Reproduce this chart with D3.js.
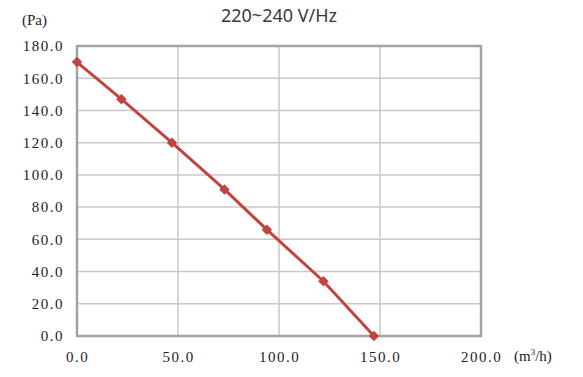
<!DOCTYPE html>
<html>
<head>
<meta charset="utf-8">
<script src="https://cdn.jsdelivr.net/npm/d3@7"></script>
<style>
  body { margin: 0; background: #fff; }
  .tick text { font-family: "Liberation Serif", serif; font-size: 15px; fill: #222; letter-spacing: 1.5px; }
</style>
</head>
<body>
<script>
// air flow (m3/h) vs static pressure (Pa)
const flowValues = [0, 22, 47, 73, 94, 122, 147];
const pressureValues = [170, 147, 120, 91, 66, 34, 0];
const xTicks = [0, 50, 100, 150, 200];
const yTicks = [0, 20, 40, 60, 80, 100, 120, 140, 160, 180];
const title = "220~240 V/Hz";

let margin = null,
    width = null,
    height = null;

let svg = null;
let x, y = null; // scales

setupCanvasSize();
appendSvg("body");
setupScales();
appendGrid();
appendAxes();
appendFrame();
appendCurve();
appendLabels();

function setupCanvasSize() {
  margin = {top: 46, left: 77, bottom: 41, right: 102};
  width = 583 - margin.left - margin.right;
  height = 377 - margin.top - margin.bottom;
}

function appendSvg(domElement) {
  const root = d3.select(domElement).append("svg")
    .attr("width", width + margin.left + margin.right)
    .attr("height", height + margin.top + margin.bottom);
  root.append("text")
    .attr("x", 279).attr("y", 22)
    .attr("text-anchor", "middle")
    .style("font-family", "'Noto Sans', sans-serif")
    .style("font-size", "18px")
    .style("fill", "#3a3a3a")
    .text(title);
  svg = root.append("g")
    .attr("transform", `translate(${margin.left}, ${margin.top})`);
}

function setupScales() {
  x = d3.scaleLinear().range([0, width]).domain([0, 200]);
  y = d3.scaleLinear().range([height, 0]).domain([0, 180]);
}

function appendGrid() {
  svg.append("g").selectAll("line")
    .data(yTicks)
    .enter().append("line")
    .attr("x1", 0).attr("x2", width)
    .attr("y1", d => y(d)).attr("y2", d => y(d))
    .style("stroke", "#c8c8c8").style("stroke-width", 1.5);
  svg.append("g").selectAll("line")
    .data(xTicks)
    .enter().append("line")
    .attr("y1", 0).attr("y2", height)
    .attr("x1", d => x(d)).attr("x2", d => x(d))
    .style("stroke", "#c8c8c8").style("stroke-width", 1.5);
}

function appendAxes() {
  const fmt = d3.format(".1f");
  const gx = svg.append("g")
    .attr("transform", `translate(0,${height})`)
    .call(d3.axisBottom(x).tickValues(xTicks).tickFormat(fmt).tickSize(0).tickPadding(15));
  const gy = svg.append("g")
    .call(d3.axisLeft(y).tickValues(yTicks).tickFormat(fmt).tickSize(0).tickPadding(13));
  gx.select(".domain").remove();
  gy.select(".domain").remove();
}

function appendFrame() {
  svg.append("rect")
    .attr("x", 0).attr("y", 0)
    .attr("width", width).attr("height", height)
    .style("fill", "none")
    .style("stroke", "#a3a3a3")
    .style("stroke-width", 2.5);
}

function appendCurve() {
  const pts = flowValues.map((d, i) => [d, pressureValues[i]]);
  const line = d3.line()
    .x(d => x(d[0]))
    .y(d => y(d[1]));
  svg.append("path")
    .datum(pts)
    .attr("d", line)
    .style("fill", "none")
    .style("stroke", "#c0443f")
    .style("stroke-width", 3);
  svg.selectAll(".marker")
    .data(pts)
    .enter().append("path")
    .attr("class", "marker")
    .attr("transform", d => `translate(${x(d[0])},${y(d[1])})`)
    .attr("d", d3.symbol().type(d3.symbolDiamond2).size(70))
    .style("fill", "#c0443f");
}

function appendLabels() {
  svg.append("text")
    .attr("x", -55).attr("y", -21)
    .style("font-family", "'Liberation Serif', serif")
    .style("font-size", "15px")
    .style("fill", "#222")
    .text("(Pa)");
  svg.append("text")
    .attr("x", width + 33).attr("y", height + 25)
    .style("font-family", "'Liberation Serif', serif")
    .style("font-size", "15px")
    .style("fill", "#222")
    .html("(m<tspan dy='-6' font-size='9px'>3</tspan><tspan dy='6'>/h)</tspan>");
}
</script>
</body>
</html>
